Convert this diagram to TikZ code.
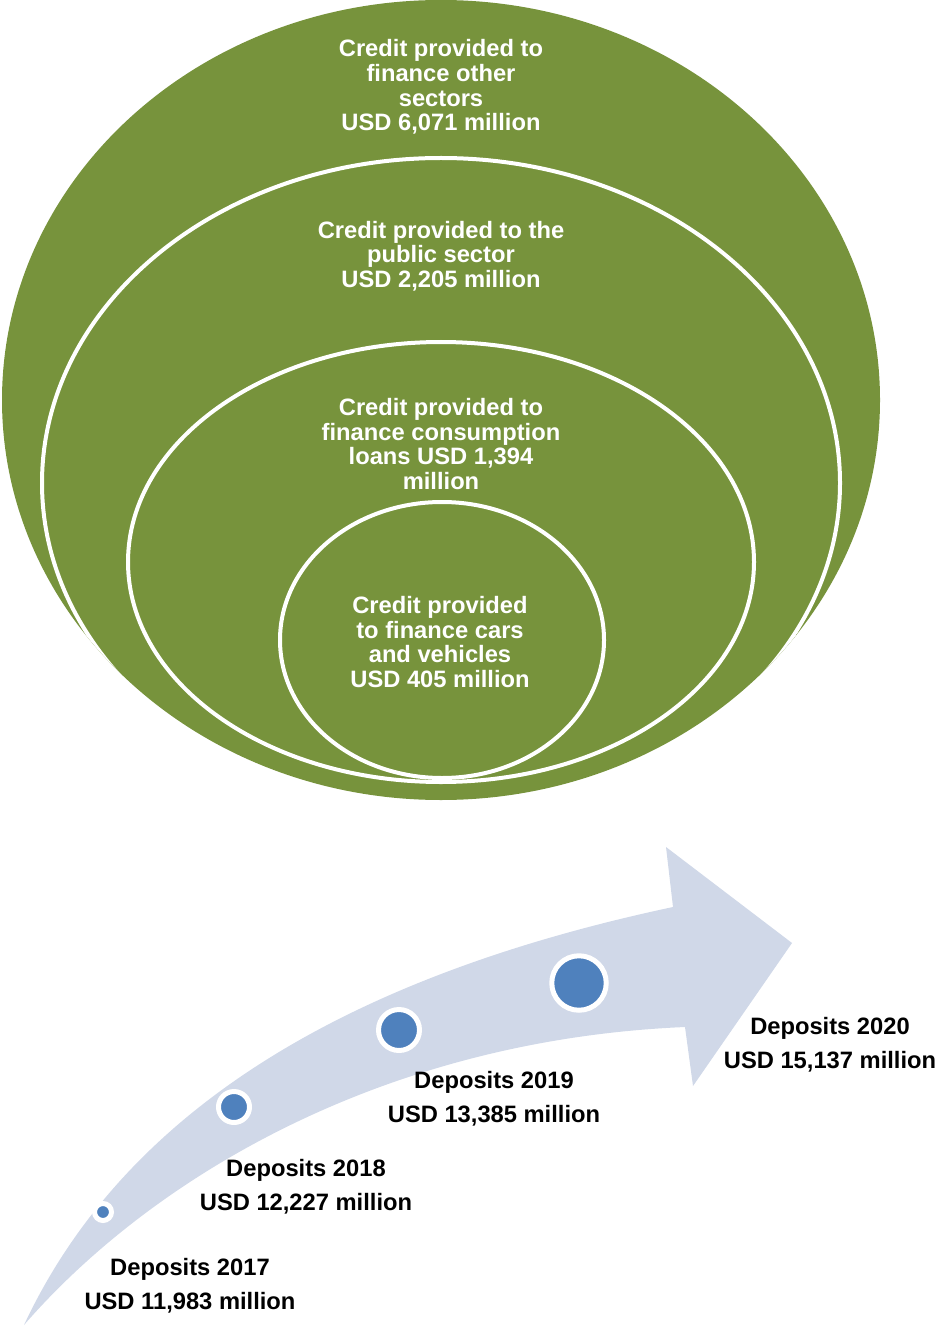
\documentclass[tikz,border=0pt]{standalone}
\usepackage{fontspec}
\setmainfont{Liberation Sans}
\usetikzlibrary{positioning}
\definecolor{creditgreen}{RGB}{119,147,60}
\definecolor{flowgrey}{RGB}{208,216,232}
\definecolor{depositblue}{RGB}{79,129,189}

\begin{document}
\begin{tikzpicture}[x=0.02cm, y=-0.02cm,
      font=\fontsize{13.5}{14}\selectfont\bfseries,
      ring/.style={draw=white, line width=0.08cm},
      credit/.style={align=center, text=white, inner sep=0pt},
      deposit/.style={align=center, inner sep=0pt,
                      font=\fontsize{13.5}{19.3}\selectfont\bfseries},
      dot/.style={circle, fill=depositblue, draw=white, line width=0.1cm,
                  inner sep=0pt}
    ]
    \useasboundingbox (0,0) rectangle (938,1327);

    % nested credit ellipses
    \fill[creditgreen] (441,400) ellipse [x radius=439, y radius=400];
    \begin{scope}
      \clip (441,400) ellipse [x radius=439, y radius=400];
      \draw[ring] (441,483) ellipse [x radius=399, y radius=325];
      \draw[ring] (441,562) ellipse [x radius=313, y radius=220];
      \draw[ring] (442,640) ellipse [x radius=162, y radius=138];
    \end{scope}

    \node[credit] (other) at (441,87)
          {Credit provided to\\finance other\\sectors\\USD 6,071 million};
    \node[credit] (public) at (441,256)
          {Credit provided to the\\public sector\\USD 2,205 million};
    \node[credit] (consum) at (441,444)
          {Credit provided to\\finance consumption\\loans USD 1,394\\million};
    \node[credit] (cars) at (440,642)
          {Credit provided\\to finance cars\\and vehicles\\USD 405 million};

    % deposits arrow
    \fill[flowgrey] (24,1325) .. controls (120,1120) and (330,980) .. (673,907)
      -- (666,847) -- (792,943) -- (693,1086) -- (685,1027)
      .. controls (380,1040) and (150,1180) .. (24,1325) -- cycle;

    \foreach \yr/\x/\y/\d in {2017/103/1212/0.34, 2018/234/1107/0.62,
                              2019/399/1030/0.82, 2020/579/983/1.09}{
      \node[dot, minimum size=\d cm] (dot\yr) at (\x,\y) {};
    }

    \node[deposit] (dep2017) at (190,1286) {Deposits 2017\\USD 11,983 million};
    \node[deposit] (dep2018) at (306,1187) {Deposits 2018\\USD 12,227 million};
    \node[deposit] (dep2019) at (494,1099) {Deposits 2019\\USD 13,385 million};
    \node[deposit] (dep2020) at (830,1045) {Deposits 2020\\USD 15,137 million};
  \end{tikzpicture}
\end{document}
